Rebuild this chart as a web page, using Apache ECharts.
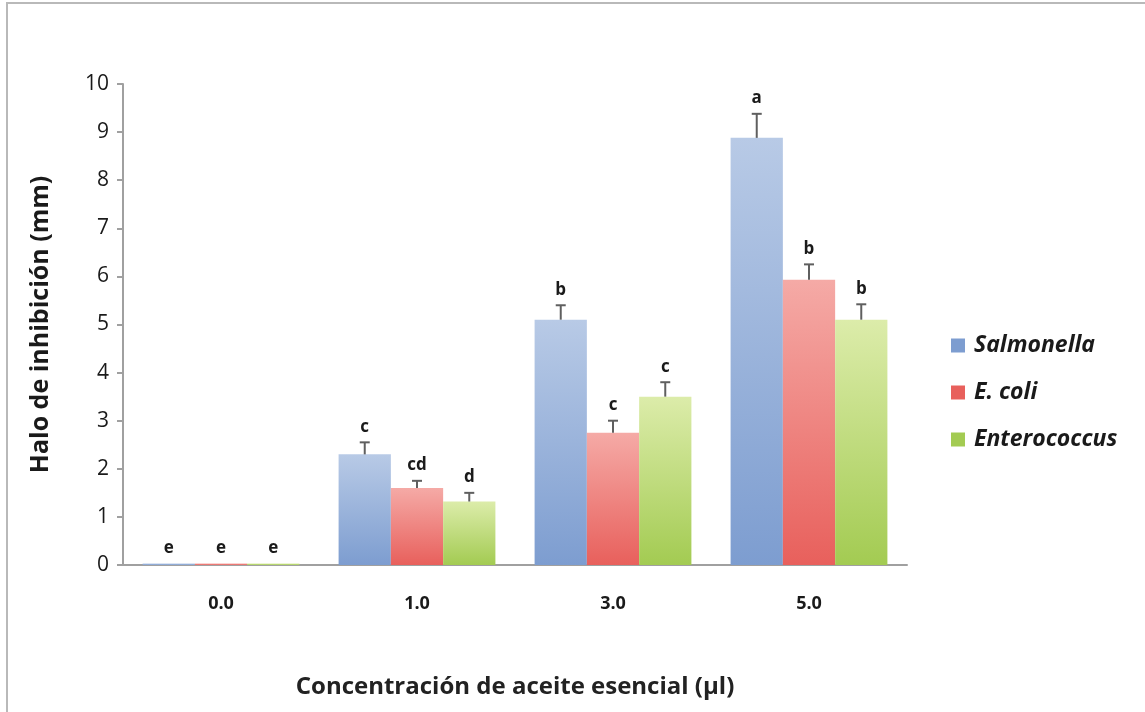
<!DOCTYPE html>
<html>
<head>
<meta charset="utf-8">
<script src="https://cdn.jsdelivr.net/npm/echarts@6/dist/echarts.min.js"></script>
<style>
  html, body { margin: 0; padding: 0; background: #fff; }
  #chart { width: 1145px; height: 712px; }
</style>
</head>
<body>
<div id="chart"></div>
<script>
// datos
const categories = ['0.0', '1.0', '3.0', '5.0'];
const seriesNames = ['Salmonella', 'E. coli', 'Enterococcus'];
const salmonella = [0.03, 2.3, 5.1, 8.88];
const ecoli = [0.03, 1.6, 2.75, 5.93];
const enterococcus = [0.03, 1.32, 3.5, 5.1];
const errSalmonella = [0, 0.25, 0.3, 0.5];
const errEcoli = [0, 0.15, 0.25, 0.32];
const errEnterococcus = [0, 0.18, 0.3, 0.32];
const lettersSalmonella = ['e', 'c', 'b', 'a'];
const lettersEcoli = ['e', 'cd', 'c', 'b'];
const lettersEnterococcus = ['e', 'd', 'c', 'b'];
const yTicks = [0, 1, 2, 3, 4, 5, 6, 7, 8, 9, 10];

const FONT = '"Open Sans", sans-serif';

const colors = [
    ['#b8cae6', '#7d9dd0'],
    ['#f5aaa6', '#e8605c'],
    ['#dcecaa', '#a3cb52']
];

const values = [salmonella, ecoli, enterococcus];
const errors = [errSalmonella, errEcoli, errEnterococcus];
const letters = [lettersSalmonella, lettersEcoli, lettersEnterococcus];

const chart = echarts.init(document.getElementById('chart'));

const barSeries = seriesNames.map((name, i) => ({
    name: name,
    type: 'bar',
    data: values[i],
    barGap: '0%',
    barCategoryGap: '20%',
    itemStyle: {
        color: new echarts.graphic.LinearGradient(0, 0, 0, 1, [
            { offset: 0, color: colors[i][0] },
            { offset: 1, color: colors[i][1] }
        ])
    },
    z: 2
}));

// barras de error + letras
const errSeries = seriesNames.map((name, i) => ({
    type: 'custom',
    name: name + '_err',
    z: 5,
    data: categories.map((c, k) => [k, values[i][k], errors[i][k], letters[i][k]]),
    renderItem: (params, api) => {
        const k = api.value(0);
        const v = api.value(1);
        const e = api.value(2);
        const band = api.size([1, 0])[0];
        const bw = band * 0.8 / 3;
        const base = api.coord([k, v]);
        const x = base[0] + (i - 1) * bw;
        const top = api.coord([k, v + e])[1];
        const children = [];
        if (e > 0) {
            children.push({
                type: 'line',
                shape: { x1: x, y1: base[1], x2: x, y2: top },
                style: { stroke: '#5f5f5f', lineWidth: 2 }
            });
            children.push({
                type: 'line',
                shape: { x1: x - 5, y1: top, x2: x + 5, y2: top },
                style: { stroke: '#5f5f5f', lineWidth: 2 }
            });
        }
        children.push({
            type: 'text',
            style: {
                x: x,
                y: (e > 0 ? top : base[1]) - 7,
                text: letters[i][k],
                fill: '#1a1a1a',
                font: 'bold 17px ' + FONT,
                align: 'center',
                verticalAlign: 'bottom'
            }
        });
        return { type: 'group', children: children };
    },
    tooltip: { show: false }
}));

const option = {
    animation: false,
    backgroundColor: '#fff',
    graphic: [{
        type: 'rect',
        shape: { x: 7, y: 3, width: 1150, height: 720 },
        style: { fill: 'none', stroke: '#b9b9b9', lineWidth: 2 },
        silent: true
    }],
    grid: {
        left: 123,
        right: 238,
        top: 84,
        bottom: 147
    },
    legend: {
        orient: 'vertical',
        left: 946,
        top: 329,
        itemGap: 24,
        itemWidth: 14,
        itemHeight: 14,
        icon: 'rect',
        data: seriesNames.map((n, i) => ({ name: n, itemStyle: { color: colors[i][1] } })),
        textStyle: {
            fontFamily: FONT,
            fontSize: 23,
            fontStyle: 'italic',
            fontWeight: 'bold',
            color: '#1a1a1a',
            padding: [0, 0, 0, 4]
        }
    },
    xAxis: {
        type: 'category',
        data: categories,
        axisLine: { lineStyle: { color: '#a0a0a0', width: 2 } },
        axisTick: { show: false },
        axisLabel: {
            margin: 30,
            fontFamily: FONT,
            fontSize: 18,
            fontWeight: 'bold',
            color: '#1a1a1a'
        },
        name: 'Concentración de aceite esencial (µl)',
        nameLocation: 'middle',
        nameGap: 110,
        nameTextStyle: {
            fontFamily: FONT,
            fontSize: 24,
            fontWeight: 'bold',
            color: '#222'
        }
    },
    yAxis: {
        type: 'value',
        min: 0,
        max: 10,
        interval: 1,
        axisLine: { show: true, lineStyle: { color: '#a0a0a0', width: 2 } },
        axisTick: { show: true, length: 6, lineStyle: { color: '#a0a0a0', width: 2 } },
        splitLine: { show: false },
        axisLabel: {
            margin: 14,
            fontFamily: FONT,
            fontSize: 21,
            color: '#1a1a1a',
            formatter: (v) => yTicks.includes(v) ? String(v) : ''
        },
        name: 'Halo de inhibición (mm)',
        nameLocation: 'middle',
        nameGap: 70,
        nameTextStyle: {
            fontFamily: FONT,
            fontSize: 25,
            fontWeight: 'bold',
            color: '#1a1a1a'
        }
    },
    series: barSeries.concat(errSeries)
};

chart.setOption(option);
</script>
</body>
</html>
